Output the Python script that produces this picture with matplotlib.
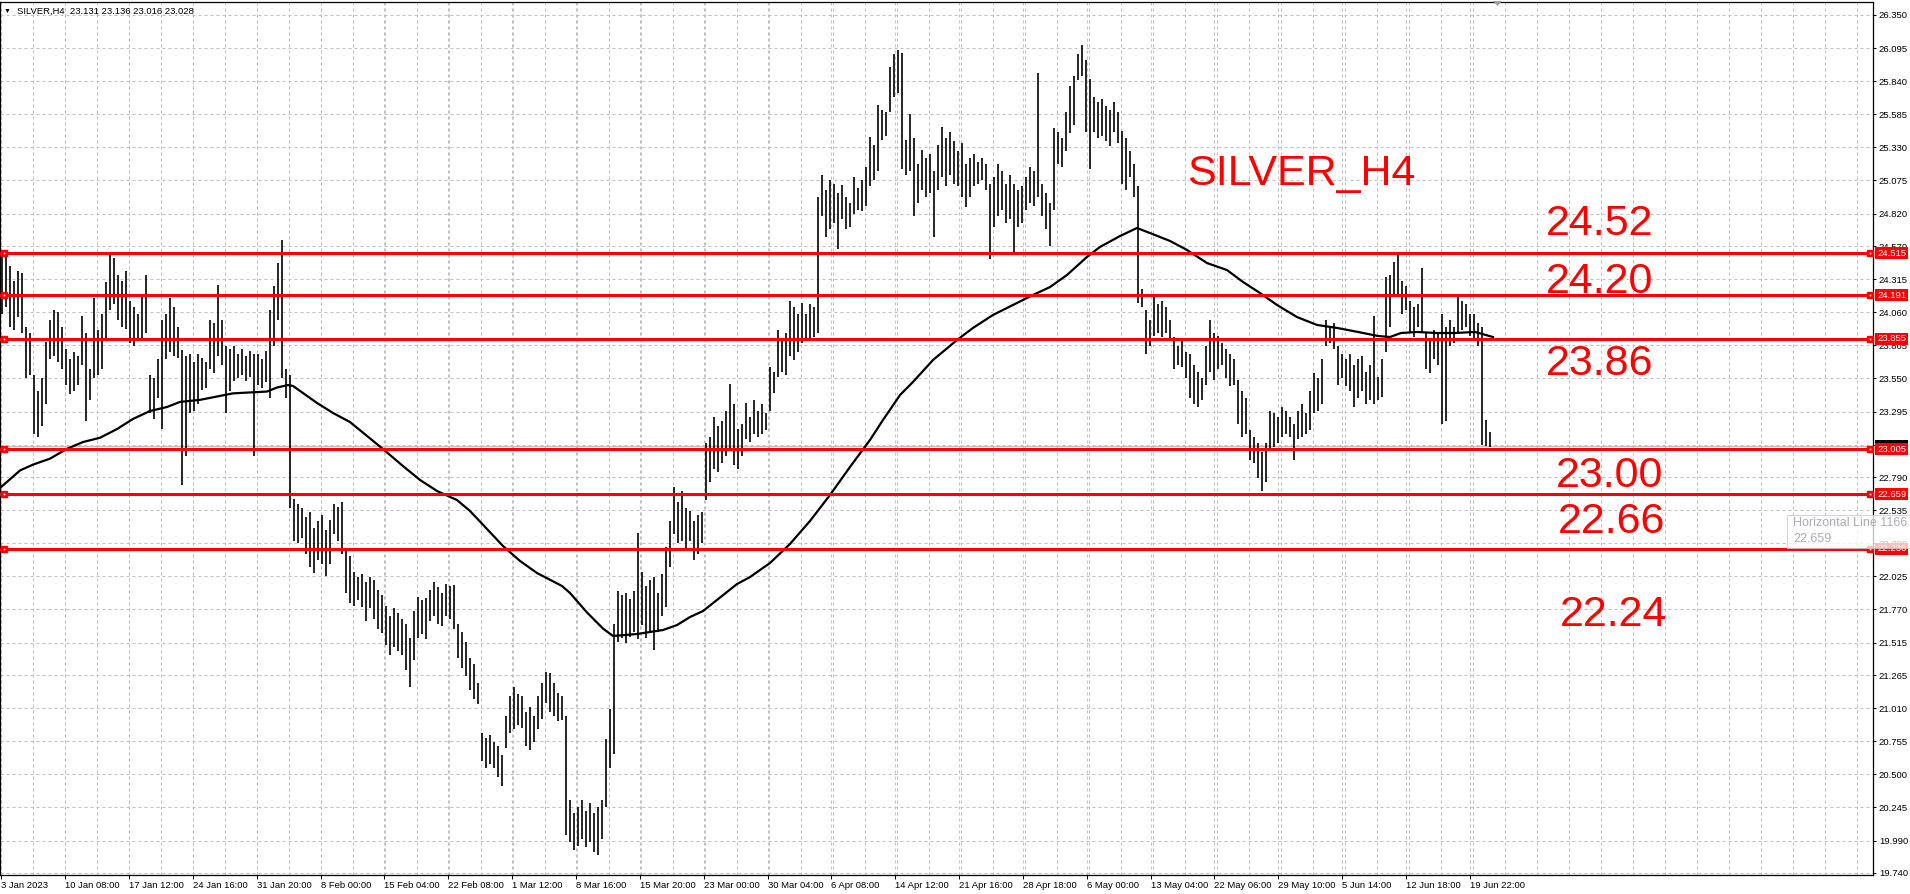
import matplotlib.pyplot as plt
import matplotlib.transforms as mtransforms
from matplotlib.patches import Rectangle, Polygon
import numpy as np

W, H = 1910, 894

# H8-ish bars (high / low per bar)
bar_high = [
    24.52, 24.50, 24.42, 24.30, 24.38, 24.36, 23.95, 23.90,
    23.58, 23.45, 23.55, 23.83, 24.00, 24.08, 24.06, 23.95,
    23.78, 23.70, 23.75, 23.72, 24.03, 23.90, 23.62, 24.17,
    23.92, 24.05, 24.29, 24.50, 24.48, 24.35, 24.30, 24.38,
    24.15, 24.10, 24.05, 24.20, 24.35, 23.58, 23.55, 23.70,
    24.00, 24.05, 24.17, 24.10, 23.95, 23.77, 23.72, 23.74,
    23.68, 23.74, 23.71, 23.68, 24.00, 23.98, 24.27, 24.00,
    23.80, 23.78, 23.80, 23.74, 23.78, 23.72, 23.76, 23.74,
    23.74, 23.70, 23.76, 24.08, 24.26, 24.44, 24.62, 23.62,
    23.58, 22.62, 22.58, 22.55, 22.48, 22.52, 22.40, 22.45,
    22.50, 22.38, 22.46, 22.58, 22.56, 22.60, 22.22, 22.18,
    22.06, 22.02, 22.04, 21.98, 22.02, 22.00, 21.92, 21.88,
    21.80, 21.72, 21.78, 21.74, 21.70, 21.66, 21.55, 21.76,
    21.87, 21.84, 21.86, 21.92, 21.98, 21.94, 21.90, 21.97,
    21.95, 21.96, 21.66, 21.60, 21.52, 21.40, 21.35, 21.20,
    20.82, 20.78, 20.80, 20.75, 20.72, 20.65, 20.95, 21.10,
    21.17, 21.12, 21.10, 20.98, 21.02, 20.95, 21.10, 21.20,
    21.29, 21.28, 21.20, 21.13, 21.10, 20.95, 20.30, 20.20,
    20.25, 20.30, 20.22, 20.28, 20.20, 20.25, 20.30, 20.77,
    21.00, 21.66, 21.91, 21.88, 21.90, 21.85, 21.91, 22.36,
    22.06, 21.95, 22.00, 22.02, 21.90, 22.04, 22.25, 22.45,
    22.71, 22.60, 22.68, 22.55, 22.53, 22.45, 22.50, 22.52,
    23.05, 23.10, 23.25, 23.18, 23.22, 23.30, 23.51, 23.35,
    23.16, 23.20, 23.36, 23.25, 23.38, 23.30, 23.35, 23.28,
    23.64, 23.60, 23.92, 23.85, 23.90, 24.15, 24.10, 24.05,
    24.13, 24.05, 24.12, 24.10, 24.95, 25.12, 25.00, 25.08,
    25.05, 24.98, 25.04, 24.95, 24.90, 25.10, 25.02, 25.08,
    25.18, 25.41, 25.35, 25.66, 25.62, 25.60, 25.95, 26.05,
    26.08, 26.06, 25.39, 25.59, 25.40, 25.20, 25.31, 25.25,
    25.28, 25.15, 25.35, 25.49, 25.40, 25.45, 25.38, 25.30,
    25.36, 25.20, 25.25, 25.28, 25.22, 25.25, 25.20, 25.05,
    25.10, 25.20, 25.15, 25.05, 25.12, 25.05, 25.00, 25.03,
    25.10, 25.18, 25.15, 25.90, 25.05, 24.98, 24.90, 25.48,
    25.45, 25.40, 25.60, 25.80, 25.88, 26.05, 26.12, 26.00,
    25.86, 25.72, 25.68, 25.70, 25.65, 25.62, 25.68, 25.60,
    25.46, 25.40, 25.30, 25.20, 25.03, 24.24, 24.08, 24.00,
    24.18, 24.12, 24.15, 24.10, 24.00, 23.87, 23.80, 23.85,
    23.75, 23.74, 23.65, 23.60, 23.55, 23.80, 24.00, 23.90,
    23.88, 23.82, 23.78, 23.74, 23.70, 23.54, 23.45, 23.40,
    23.15, 23.10, 23.05, 22.98, 23.05, 23.30, 23.28, 23.25,
    23.33, 23.30, 23.25, 23.20, 23.30, 23.35, 23.28, 23.45,
    23.59, 23.55, 23.70, 24.00, 23.95, 23.98, 23.80, 23.74,
    23.70, 23.74, 23.65, 23.70, 23.72, 23.60, 23.65, 24.03,
    23.56, 23.70, 24.33, 24.35, 24.45, 24.51, 24.30, 24.26,
    24.15, 24.10, 24.12, 24.40, 23.90, 23.85, 23.92, 23.90,
    24.05, 23.95, 24.00, 23.95, 24.18, 24.15, 24.12, 24.05,
    24.05, 23.98, 23.95, 23.23, 23.14,
]
bar_low = [
    24.05, 24.10, 23.95, 23.92, 24.02, 23.90, 23.55, 23.58,
    23.12, 23.10, 23.18, 23.35, 23.70, 23.72, 23.68, 23.62,
    23.50, 23.43, 23.45, 23.50, 23.65, 23.22, 23.38, 23.55,
    23.58, 23.62, 23.85, 24.08, 24.12, 24.00, 23.95, 23.93,
    23.82, 23.80, 23.86, 23.84, 23.90, 23.28, 23.24, 23.40,
    23.16, 23.70, 23.75, 23.72, 23.71, 22.73, 22.95, 23.28,
    23.30, 23.35, 23.46, 23.48, 23.62, 23.59, 23.72, 23.65,
    23.28, 23.45, 23.53, 23.55, 23.58, 23.53, 23.56, 22.95,
    23.50, 23.48, 23.52, 23.40, 23.80, 24.00, 23.55, 23.40,
    22.55, 22.30, 22.28, 22.32, 22.20, 22.10, 22.05, 22.15,
    22.12, 22.03, 22.12, 22.35, 22.30, 22.20, 21.90, 21.82,
    21.80, 21.84, 21.79, 21.68, 21.78, 21.70, 21.62, 21.59,
    21.50, 21.42, 21.48, 21.45, 21.42, 21.30, 21.17, 21.38,
    21.55, 21.58, 21.54, 21.68, 21.72, 21.66, 21.64, 21.72,
    21.70, 21.62, 21.40, 21.32, 21.26, 21.15, 21.08, 21.04,
    20.60, 20.55, 20.58, 20.55, 20.48, 20.41, 20.70, 20.82,
    20.85, 20.88, 20.86, 20.72, 20.69, 20.75, 20.85, 20.93,
    21.05, 20.98, 20.95, 20.91, 20.92, 20.03, 19.98, 19.92,
    19.95, 20.00, 19.94, 19.98, 19.90, 19.88, 20.00, 20.25,
    20.55, 20.66, 21.52, 21.55, 21.51, 21.56, 21.60, 21.54,
    21.65, 21.55, 21.60, 21.46, 21.60, 21.72, 21.79, 22.10,
    22.35, 22.28, 22.30, 22.23, 22.30, 22.15, 22.20, 22.28,
    22.61, 22.75, 22.85, 22.83, 22.90, 22.95, 23.00, 22.88,
    22.85, 22.95, 23.08, 23.06, 23.12, 23.10, 23.12, 23.15,
    23.30, 23.44, 23.56, 23.60, 23.58, 23.72, 23.69, 23.75,
    23.82, 23.85, 23.86, 23.87, 23.90, 24.80, 24.64, 24.70,
    24.75, 24.55, 24.78, 24.70, 24.72, 24.82, 24.85, 24.84,
    24.88, 25.03, 25.08, 25.15, 25.39, 25.42, 25.60, 25.72,
    25.75, 25.16, 25.12, 25.15, 24.80, 24.90, 25.00, 24.95,
    24.98, 24.64, 25.00, 25.10, 25.03, 25.12, 25.05, 25.03,
    24.95, 24.87, 24.95, 25.03, 25.05, 25.08, 25.00, 24.47,
    24.72, 24.80, 24.85, 24.75, 24.78, 24.51, 24.72, 24.75,
    24.85, 24.90, 24.88, 24.95, 24.80, 24.70, 24.57, 24.85,
    25.20, 25.18, 25.30, 25.44, 25.50, 25.85, 25.88, 25.45,
    25.16, 25.45, 25.40, 25.42, 25.38, 25.34, 25.45, 25.36,
    25.05, 25.00, 25.10, 24.95, 24.13, 24.10, 23.74, 23.80,
    23.88, 23.90, 23.87, 23.90, 23.85, 23.62, 23.65, 23.64,
    23.55, 23.40, 23.35, 23.33, 23.38, 23.50, 23.60, 23.54,
    23.62, 23.65, 23.55, 23.49, 23.50, 23.20, 23.10, 23.12,
    22.92, 22.90, 22.78, 22.68, 22.75, 23.00, 23.02, 23.05,
    23.10, 23.12, 23.10, 22.92, 23.08, 23.10, 23.12, 23.15,
    23.28, 23.30, 23.35, 23.80, 23.82, 23.78, 23.50, 23.55,
    23.49, 23.45, 23.33, 23.40, 23.45, 23.35, 23.38, 23.35,
    23.38, 23.41, 23.75, 23.95, 24.18, 24.20, 24.05, 24.08,
    23.90, 23.87, 23.95, 23.90, 23.62, 23.59, 23.70, 23.65,
    23.20, 23.22, 23.80, 23.82, 23.90, 23.92, 23.95, 23.88,
    23.85, 23.80, 23.04, 23.03, 23.02,
]

# moving average, sampled along the curve (bar index, price)
ma_pos = [-0.5, 4.5, 7.75, 12, 16.25, 20.25, 24.5, 28.75, 32.75, 37, 41.25,
          44.5, 49.5, 57.75, 66.25, 68.75, 71.5, 72.75, 78.75, 82.75, 87,
          91.25, 95.25, 100.25, 104.5, 108.75, 113.75, 117, 121.25, 125.25,
          129.5, 133.75, 140, 142, 146.25, 150.25, 152.75, 158.75, 165.25,
          168.75, 172, 175.25, 179.5, 183.75, 187, 192, 197, 202, 207, 212,
          217, 220.25, 224.5, 227.75, 232.75, 238.75, 242.75, 247.75, 252.75,
          257.75, 262, 266.25, 271.25, 274.5, 279.5, 283.75, 287, 292, 296.25,
          301.25, 306.25, 310.25, 314.5, 318.75, 323.75, 328.75, 333.75, 339,
          344, 347, 349.75, 353.75, 358.5, 363.25, 368.25, 372.75]
ma_val = [22.706, 22.841, 22.886, 22.932, 23.008, 23.060, 23.093, 23.160,
          23.238, 23.299, 23.330, 23.369, 23.385, 23.435, 23.449, 23.480,
          23.499, 23.492, 23.361, 23.284, 23.214, 23.107, 23.006, 22.875,
          22.768, 22.683, 22.613, 22.529, 22.390, 22.259, 22.144, 22.051,
          21.951, 21.897, 21.747, 21.623, 21.566, 21.581, 21.612, 21.650,
          21.712, 21.758, 21.862, 21.966, 22.020, 22.128, 22.275, 22.452,
          22.652, 22.868, 23.076, 23.230, 23.422, 23.523, 23.692, 23.846,
          23.939, 24.039, 24.116, 24.193, 24.254, 24.347, 24.486, 24.563,
          24.647, 24.709, 24.670, 24.609, 24.540, 24.439, 24.385, 24.293,
          24.208, 24.116, 24.023, 23.962, 23.939, 23.908, 23.877, 23.869,
          23.900, 23.908, 23.900, 23.900, 23.908, 23.869]

levels = [24.515, 24.191, 23.855, 23.005, 22.659, 22.236]
level_names = ["24.52", "24.20", "23.86", "23.00", "22.66", "22.24"]
bid = 23.028
price_ticks = [26.350, 26.095, 25.840, 25.585, 25.330, 25.075, 24.820,
               24.570, 24.315, 24.060, 23.805, 23.550, 23.295, 23.040,
               22.790, 22.535, 22.280, 22.025, 21.770, 21.515, 21.265,
               21.010, 20.755, 20.500, 20.245, 19.990, 19.740]
date_labels = ["3 Jan 2023", "10 Jan 08:00", "17 Jan 12:00", "24 Jan 16:00",
               "31 Jan 20:00", "8 Feb 00:00", "15 Feb 04:00", "22 Feb 08:00",
               "1 Mar 12:00", "8 Mar 16:00", "15 Mar 20:00", "23 Mar 00:00",
               "30 Mar 04:00", "6 Apr 08:00", "14 Apr 12:00", "21 Apr 16:00",
               "28 Apr 18:00", "6 May 00:00", "13 May 04:00", "22 May 06:00",
               "29 May 10:00", "5 Jun 14:00", "12 Jun 18:00", "19 Jun 22:00"]
header = "SILVER,H4  23.131 23.136 23.016 23.028"
title = "SILVER_H4"

plt.rcParams["font.family"] = ["Liberation Sans", "DejaVu Sans"]
RED = "#ff0000"
GRID = "#c0c0c0"
SMALL = 6.8


def px(x, y):
    # pixel position (origin top-left) -> figure fraction
    return x / W, 1 - y / H


fig = plt.figure(figsize=(W / 100, H / 100), dpi=100)
ax = fig.add_axes([0, 19 / H, 1873 / W, 873 / H])
ax.set_xlim(-0.5, 467.75)
ax.set_ylim(19.7245, 26.450)

# grid
ax.set_yticks(price_ticks)
ax.set_yticklabels([f"{v:.3f}" for v in price_ticks])
ax.set_xticks([(-0.7 + 63.85 * k) / 4 for k in range(len(date_labels))])
ax.set_xticklabels(date_labels, ha="left")
ax.set_xticks([(-0.7 + 32 * k) / 4 for k in range(59)], minor=True)
grid_kw = dict(color=GRID, lw=0.72, ls=(0, (3, 3)))
ax.grid(True, which="both", axis="x", **grid_kw)
ax.grid(True, which="major", axis="y", **grid_kw)
ax.set_axisbelow(True)
ax.yaxis.tick_right()
ax.tick_params(axis="x", which="minor", length=0)
ax.tick_params(axis="x", which="major", length=3, width=0.7, pad=1.5, labelsize=SMALL)
ax.tick_params(axis="y", length=2.3, width=0.7, pad=2, labelsize=SMALL)
for s in ax.spines.values():
    s.set_color("black")
    s.set_linewidth(0.9)

# price bars and MA
x = np.arange(len(bar_high))
ax.vlines(x, bar_low, bar_high, color="black", lw=1.2, zorder=3)
ax.plot(ma_pos, ma_val, color="black", lw=1.6, zorder=4)

# bid line and horizontal levels
ax.axhline(bid, color=GRID, lw=0.8, zorder=2)
for lv in levels:
    ax.axhline(lv, color=RED, lw=2.2, zorder=5)

blend = mtransforms.blended_transform_factory(ax.transAxes, ax.transData)
for xa in (3.5 / 1873, 1870 / 1873):
    ax.plot([xa] * len(levels), levels, "s", ms=5, color=RED, transform=blend,
            clip_on=False, zorder=6)
    ax.plot([xa] * len(levels), levels, "s", ms=1.2, color="white", mew=0,
            transform=blend, clip_on=False, zorder=6)

x_lab = 1877 / 1873
ax.text(x_lab, bid, f"{bid:.3f}", transform=blend, color="white", fontsize=SMALL,
        va="center", ha="left", clip_on=False, zorder=7,
        bbox=dict(boxstyle="square,pad=0.18", fc="black", ec="none"))
for lv in levels:
    ax.text(x_lab, lv, f"{lv:.3f}", transform=blend, color="white", fontsize=SMALL,
            va="center", ha="left", clip_on=False, zorder=8,
            bbox=dict(boxstyle="square,pad=0.18", fc=RED, ec="none"))

# big red annotations
fig.text(*px(1301, 185), title, fontsize=31, color=RED, ha="center", va="baseline")
label_xy = [(1600, 235), (1600, 293), (1600, 375), (1610, 487), (1612, 533), (1614, 626)]
for name, (lx, ly) in zip(level_names, label_xy):
    fig.text(*px(lx, ly), name, fontsize=31, color=RED, ha="center", va="baseline")

# header and chart-shift marker
fig.text(*px(7.5, 11), "\u25bc", fontsize=5, ha="center", va="center")
fig.text(*px(17, 11), header, fontsize=SMALL, ha="left", va="center")
fig.add_artist(Polygon([px(1493, 1), px(1502, 1), px(1497.5, 6)], closed=True,
                       transform=fig.transFigure, fc="#a0a0a0", ec="none", zorder=9))

# tooltip
fig.add_artist(Rectangle(px(1787, 548), 130 / W, 33 / H, transform=fig.transFigure,
                         facecolor="white", alpha=0.75, edgecolor="#c8c8c8",
                         lw=0.8, zorder=10))
fig.text(*px(1793, 523), "Horizontal Line 1166", fontsize=9, color="#a9adb3",
         va="center", zorder=11)
fig.text(*px(1793, 539), "22.659", fontsize=9, color="#a9adb3", va="center", zorder=11)

fig.savefig("out.png", dpi=100)
